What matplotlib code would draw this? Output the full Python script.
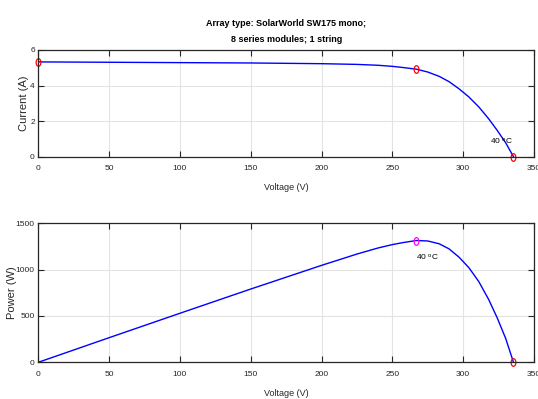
import matplotlib
matplotlib.use('Agg')
import matplotlib.pyplot as plt
import numpy as np
from matplotlib.path import Path
from matplotlib.transforms import Affine2D

# values
volts = [0, 50, 100, 150, 200, 225, 240, 250, 258, 267, 275, 283, 290,
         297, 304, 311, 318, 324, 330, 335.5]
current = [5.33, 5.31, 5.29, 5.27, 5.23, 5.19, 5.14, 5.08, 5.01, 4.92, 4.76,
           4.52, 4.22, 3.82, 3.36, 2.80, 2.13, 1.48, 0.78, 0.0]
power = [0, 265.5, 529, 790.5, 1046, 1168, 1234, 1270, 1293, 1314, 1309,
         1279, 1224, 1135, 1021, 871, 677, 480, 257, 0]

v_mp, i_mp, p_mp = 267, 4.92, 1314
v_oc, i_sc = 335.5, 5.33
temp_label = '40 $^o$C'

xticks = [0, 50, 100, 150, 200, 250, 300, 350]
i_ticks = [0, 2, 4, 6]
p_ticks = [0, 500, 1000, 1500]

plt.rcParams['font.family'] = ['Liberation Sans', 'DejaVu Sans']
plt.rcParams['mathtext.fontset'] = 'custom'
plt.rcParams['mathtext.rm'] = 'Liberation Sans'
plt.rcParams['mathtext.it'] = 'Liberation Sans'

# MATLAB draws its circles a bit tall
oval = Path.unit_circle().transformed(Affine2D().scale(0.62, 1.0))

fig = plt.figure(figsize=(5.38, 3.99), dpi=100)
ax1 = fig.add_axes([0.0712, 0.6073, 0.9214, 0.2674])
ax2 = fig.add_axes([0.0712, 0.0920, 0.9214, 0.3484])


def style(ax, yticks, ylabel, label_x):
    ax.set_xlim(0, 350)
    ax.set_xticks(xticks)
    ax.set_ylim(yticks[0], yticks[-1])
    ax.set_yticks(yticks)
    ax.grid(True, color='#e3e3e3', linewidth=0.8)
    ax.set_axisbelow(True)
    ax.tick_params(direction='in', length=4.5, width=0.8, top=True,
                   right=True, labelsize=6, pad=6, colors='#262626')
    ax.tick_params(axis='y', pad=2.5)
    for sp in ax.spines.values():
        sp.set_linewidth(0.9)
        sp.set_color('#262626')
    ax.set_xlabel('Voltage (V)', fontsize=6.5, labelpad=8, color='#262626')
    ax.set_ylabel(ylabel, fontsize=8, color='#262626')
    ax.yaxis.set_label_coords(label_x, 0.5)


ax1.plot(volts, current, color='#0000ff', linewidth=1.0)
ax1.plot([0, v_mp, v_oc], [i_sc, i_mp, 0], linestyle='none', marker=oval,
         markersize=5.5, markerfacecolor='none', markeredgecolor='red',
         markeredgewidth=0.9, clip_on=False)
ax1.text(319, 0.9, temp_label, fontsize=6, va='center', ha='left')
style(ax1, i_ticks, 'Current (A)', -0.019)
ax1.set_title('Array type: SolarWorld SW175 mono;\n8 series modules; 1 string',
              fontsize=6.5, fontweight='bold', linespacing=2.0, pad=6)

ax2.plot(volts, power, color='#0000ff', linewidth=1.0)
ax2.plot([v_mp], [p_mp], linestyle='none', marker=oval, markersize=5.5,
         markerfacecolor='none', markeredgecolor='magenta', markeredgewidth=0.9)
ax2.plot([v_oc], [0], linestyle='none', marker=oval, markersize=5.5,
         markerfacecolor='none', markeredgecolor='red', markeredgewidth=0.9,
         clip_on=False)
ax2.text(v_mp, 1140, temp_label, fontsize=6, va='center', ha='left')
style(ax2, p_ticks, 'Power (W)', -0.042)

fig.savefig('out.png', dpi=100)
